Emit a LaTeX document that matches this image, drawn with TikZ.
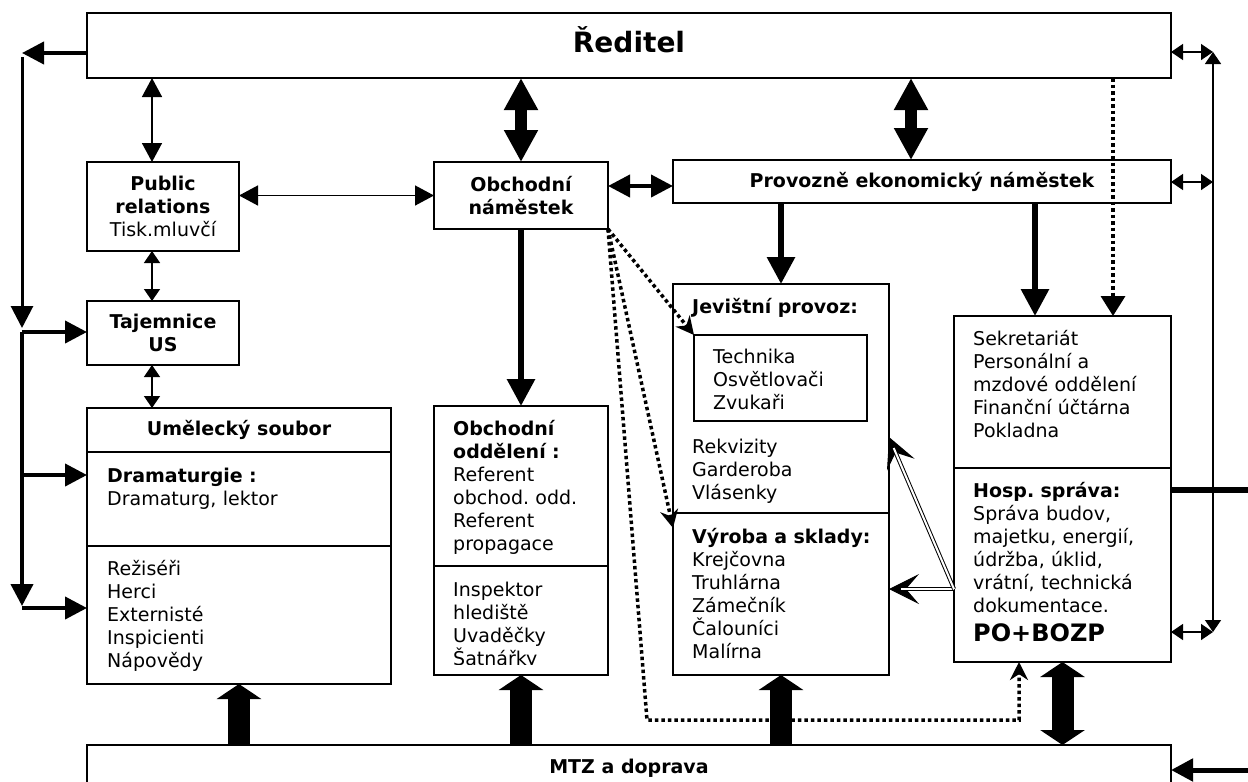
\documentclass[tikz,border=0pt]{standalone}
\usepackage{fontspec}
\setmainfont{DejaVu Sans}
\usepackage{tikz}
\usetikzlibrary{calc}
\usetikzlibrary{arrows.meta}
\usetikzlibrary{positioning}
\tikzstyle{orgbox}=[black, draw=black, line width=1.6pt, shape=rectangle, fill=white, inner sep=0pt, outer sep=0pt, align=center, font=\fontsize{19}{23}\selectfont]
\tikzstyle{boldbox}=[orgbox, font=\fontsize{19}{23}\selectfont\bfseries]
\tikzstyle{listtext}=[inner sep=0pt, anchor=base west, text width=200pt, align=left, font=\fontsize{19}{23}\selectfont]
\tikzstyle{twoway}=[{Triangle[length=19pt, width=20pt]}-{Triangle[length=19pt, width=20pt]}, line width=1.5pt]
\tikzstyle{smalltwo}=[{Triangle[length=12pt, width=16pt]}-{Triangle[length=12pt, width=16pt]}, line width=1.5pt]
\tikzstyle{midtwo}=[{Triangle[length=22pt, width=22pt]}-{Triangle[length=22pt, width=22pt]}, line width=4pt]
\tikzstyle{bigtwo}=[{Triangle[length=32pt, width=32pt]}-{Triangle[length=32pt, width=32pt]}, line width=12pt]
\tikzstyle{downarr}=[-{Triangle[length=27pt, width=27pt]}, line width=6pt]
\tikzstyle{sidearr}=[-{Triangle[length=22pt, width=22pt]}, line width=4pt]
\tikzstyle{dotline}=[line width=3.5pt, dash pattern=on 3.5pt off 3pt]
\tikzstyle{dotarr}=[dotline, -{Triangle[length=20pt, width=24pt]}]
\tikzstyle{dotstealth}=[dotline, -{Stealth[length=18pt, width=18pt]}]
\tikzstyle{blockup}=[-{Triangle[length=15pt, width=44pt]}, line width=22pt]
\tikzstyle{blocktwo}=[{Triangle[length=15pt, width=44pt]}-{Triangle[length=15pt, width=44pt]}, line width=22pt]
\tikzstyle{hollowline}=[double=white, double distance=2pt, line width=1pt, shorten >=12pt]
\tikzstyle{hollowtip}=[-{Stealth[length=30pt, width=30pt, inset=13pt]}, line width=1pt]

\begin{document}
\begin{tikzpicture}[x=1pt, y=-1pt]
\useasboundingbox (0,0) rectangle (1248,782);
\clip (0,0) rectangle (1248,782);

% top level
\node [boldbox, anchor=north west, minimum width=1084pt, minimum height=65pt, font=\fontsize{28}{32}\selectfont\bfseries, text height=20pt, text depth=7pt] (reditel) at (87,13) {Ředitel};
\node [orgbox, anchor=north west, minimum width=152pt, minimum height=89pt] (pr) at (87,162) {\textbf{Public}\\\textbf{relations}\\Tisk.mluvčí};
\node [boldbox, anchor=north west, minimum width=152pt, minimum height=64pt] (tajemnice) at (87,301) {Tajemnice\\US};
\node [boldbox, anchor=north west, minimum width=174pt, minimum height=67pt] (obchnam) at (434,162) {Obchodní\\náměstek};
\node [boldbox, anchor=north west, minimum width=498pt, minimum height=43pt] (provnam) at (673,160) {Provozně ekonomický náměstek};

% umelecky soubor
\node [boldbox, anchor=north west, minimum width=304pt, minimum height=44pt] (umelhead) at (87,408) {Umělecký soubor};
\node [orgbox, below=0pt of umelhead, minimum width=304pt, minimum height=94pt] (umeldram) {};
\node [orgbox, below=0pt of umeldram, minimum width=304pt, minimum height=138pt] (umelrez) {};
\node [listtext] (dramtext) at ($(umeldram.north west)+(20,30)$) {\textbf{Dramaturgie :}\\Dramaturg, lektor};
\node [listtext] (reztext) at ($(umelrez.north west)+(20,29)$) {Režiséři\\Herci\\Externisté\\Inspicienti\\Nápovědy};

% obchodni oddeleni
\node [orgbox, anchor=north west, minimum width=174pt, minimum height=160pt] (obchodd) at (434,406) {};
\node [orgbox, below=0pt of obchodd, minimum width=174pt, minimum height=109pt] (obchlow) {};
\node [listtext] (odditext) at ($(obchodd.north west)+(19,29)$) {\textbf{Obchodní}\\\textbf{oddělení :}\\Referent\\obchod.\ odd.\\Referent\\propagace};
\begin{scope}
\clip (434,566) rectangle (608,664);
\node [listtext] (lowtext) at ($(obchlow.north west)+(19,30)$) {Inspektor\\hlediště\\Uvaděčky\\Šatnářky};
\end{scope}

% jevistni provoz
\node [orgbox, anchor=north west, minimum width=216pt, minimum height=229pt] (jevprov) at (673,284) {};
\node [orgbox, below=0pt of jevprov, minimum width=216pt, minimum height=162pt] (vyroba) {};
\node [orgbox, anchor=north west, minimum width=173pt, minimum height=86pt] (technika) at (694,335) {};
\node [listtext, font=\fontsize{19}{23}\selectfont\bfseries] (jevtext) at ($(jevprov.north west)+(19,29)$) {Jevištní provoz:};
\node [listtext] (techtext) at ($(technika.north west)+(19,28)$) {Technika\\Osvětlovači\\Zvukaři};
\node [listtext] (rekvtext) at ($(jevprov.north west)+(19,169)$) {Rekvizity\\Garderoba\\Vlásenky};
\node [listtext] (vyrtext) at ($(vyroba.north west)+(19,30)$) {\textbf{Výroba a sklady:}\\Krejčovna\\Truhlárna\\Zámečník\\Čalouníci\\Malírna};

% sekretariat
\node [orgbox, anchor=north west, minimum width=217pt, minimum height=152pt] (sekret) at (954,316) {};
\node [orgbox, below=0pt of sekret, minimum width=217pt, minimum height=194pt] (hosp) {};
\node [listtext] (sektext) at ($(sekret.north west)+(19,29)$) {Sekretariát\\Personální a\\mzdové oddělení\\Finanční účtárna\\Pokladna};
\node [listtext] (hosptext) at ($(hosp.north west)+(19,29)$) {\textbf{Hosp.\ správa:}\\Správa budov,\\majetku, energií,\\údržba, úklid,\\vrátní, technická\\dokumentace.\\[6pt]{\fontsize{24}{29}\selectfont\bfseries PO+BOZP}};

\node [boldbox, anchor=north west, minimum width=1084pt, minimum height=46pt] (mtz) at (87,745) {MTZ a doprava};

% helper points
\coordinate (lefttip) at (22,53);
\coordinate (leftdown) at (22,57);
\coordinate (leftmid) at (22,328);
\coordinate (branchtaj) at (22,332);
\coordinate (branchdram) at (22,475);
\coordinate (branchend) at (22,606);
\coordinate (branchrez) at (22,608);
\coordinate (colpr) at (152,0);
\coordinate (colpe) at (911,0);
\coordinate (colsek) at (1035,0);
\coordinate (coldot) at (1113,0);
\coordinate (rowop) at (0,186);
\coordinate (righttop) at (1213,52);
\coordinate (rightmid) at (1213,182);
\coordinate (rightbot) at (1213,632);
\coordinate (rightline) at (1248,490);
\coordinate (rightmtz) at (1248,770);
\coordinate (dotcorner) at (647,720);
\coordinate (dotcol) at (1019,0);
\coordinate (hospsrc) at (954,589);
\coordinate (jevtgt) at (889,437);

% left side
\draw[sidearr] (reditel.west |- lefttip) -- (lefttip);
\draw[sidearr, line width=3pt] (leftdown) -- (leftmid);
\draw[sidearr] (branchtaj) -- (tajemnice.west |- branchtaj);
\draw[sidearr] (branchtaj) -- (branchend);
\draw[sidearr] (branchdram) -- (umeldram.west |- branchdram);
\draw[sidearr] (branchrez) -- (umelrez.west |- branchrez);

% top links
\draw[twoway] (reditel.south -| colpr) -- (pr.north -| colpr);
\draw[smalltwo] (pr.south -| colpr) -- (tajemnice.north -| colpr);
\draw[smalltwo] (tajemnice.south -| colpr) -- (umelhead.north -| colpr);
\draw[twoway] (pr.east |- obchnam.west) -- (obchnam.west);
\draw[bigtwo] (reditel.south -| obchnam.north) -- (obchnam.north);
\draw[bigtwo] (reditel.south -| colpe) -- (provnam.north -| colpe);
\draw[midtwo] (obchnam.east |- rowop) -- (provnam.west |- rowop);
\draw[downarr] (obchnam.south) -- (obchodd.north);
\draw[downarr] (provnam.south -| jevprov.north) -- (jevprov.north);
\draw[downarr] (provnam.south -| colsek) -- (sekret.north -| colsek);
\draw[dotarr] (reditel.south -| coldot) -- (sekret.north -| coldot);

% dotted links
\draw[dotstealth] (obchnam.south east) -- (technika.north west);
\draw[dotstealth] (obchnam.south east) -- ([yshift=-15pt]vyroba.north west);
\draw[dotstealth] (obchnam.south east) -- (dotcorner) -| (hosp.south -| dotcol);

% hosp. sprava links
\draw[hollowtip] ($(hospsrc)!0.75!(vyroba.east |- hospsrc)$) -- (vyroba.east |- hospsrc);
\draw[hollowline] (hospsrc) -- (vyroba.east |- hospsrc);
\draw[hollowtip] ($(hospsrc)!0.85!(jevprov.east |- jevtgt)$) -- (jevprov.east |- jevtgt);
\draw[hollowline] (hospsrc) -- (jevprov.east |- jevtgt);

% right side
\draw[smalltwo] (reditel.east |- righttop) -- (righttop);
\draw[smalltwo] (provnam.east |- rightmid) -- (rightmid);
\draw[smalltwo] (hosp.east |- rightbot) -- (rightbot);
\draw[smalltwo] (rightbot) -- (righttop);
\draw[line width=6pt] (hosp.east |- rightline) -- (rightline);
\draw[sidearr, line width=5pt] (rightmtz) -- (mtz.east |- rightmtz);

% mtz links
\draw[blockup] (mtz.north -| umelrez.south) -- (umelrez.south);
\draw[blockup] (mtz.north -| obchlow.south) -- (obchlow.south);
\draw[blockup] (mtz.north -| vyroba.south) -- (vyroba.south);
\draw[blocktwo] (mtz.north -| hosp.south) -- (hosp.south);
\end{tikzpicture}
\end{document}
